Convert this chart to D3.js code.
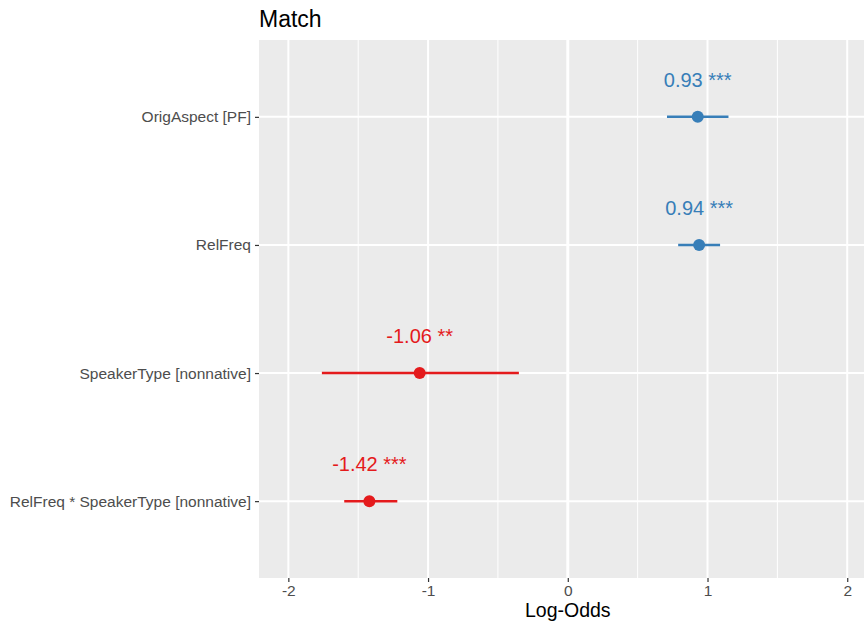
<!DOCTYPE html>
<html>
<head>
<meta charset="utf-8">
<script src="https://cdn.jsdelivr.net/npm/d3@7"></script>
<style>
  body { margin: 0; background: #fff; }
  text { font-family: "Liberation Sans", Arial, sans-serif; }
</style>
</head>
<body>
<div id="chart"></div>
<script>
// model terms, top to bottom
const terms = ['OrigAspect [PF]', 'RelFreq', 'SpeakerType [nonnative]', 'RelFreq * SpeakerType [nonnative]'];
const estimates = [0.93, 0.94, -1.06, -1.42];
const ciLow = [0.71, 0.79, -1.76, -1.60];
const ciHigh = [1.15, 1.09, -0.35, -1.22];
const stars = ['***', '***', '**', '***'];
const xTicks = [-2, -1, 0, 1, 2];
const xMinor = [-1.5, -0.5, 0.5, 1.5];

const width = 864, height = 624;
const panel = {left: 259, right: 864, top: 40, bottom: 578};
const blue = '#377EB8', red = '#E41A1C';

const svg = d3.select('#chart').append('svg')
  .attr('width', width)
  .attr('height', height);

const x = d3.scaleLinear()
  .domain([-2.21, 2.12])
  .range([panel.left, panel.right]);

const y = d3.scalePoint()
  .domain(terms)
  .range([panel.top, panel.bottom])
  .padding(0.6);

// panel background
svg.append('rect')
  .attr('x', panel.left)
  .attr('y', panel.top)
  .attr('width', panel.right - panel.left)
  .attr('height', panel.bottom - panel.top)
  .attr('fill', '#EBEBEB');

const grid = svg.append('g');
grid.selectAll('.minor')
  .data(xMinor)
  .enter().append('line')
  .attr('x1', d => x(d)).attr('x2', d => x(d))
  .attr('y1', panel.top).attr('y2', panel.bottom)
  .attr('stroke', '#fff').attr('stroke-width', 1);
grid.selectAll('.major')
  .data(xTicks)
  .enter().append('line')
  .attr('x1', d => x(d)).attr('x2', d => x(d))
  .attr('y1', panel.top).attr('y2', panel.bottom)
  .attr('stroke', '#fff').attr('stroke-width', d => d === 0 ? 3 : 2);
grid.selectAll('.hmajor')
  .data(terms)
  .enter().append('line')
  .attr('x1', panel.left).attr('x2', panel.right)
  .attr('y1', d => y(d)).attr('y2', d => y(d))
  .attr('stroke', '#fff').attr('stroke-width', 2);

// axes
const xAxis = svg.append('g')
  .attr('transform', `translate(0,${panel.bottom})`)
  .call(d3.axisBottom(x).tickValues(xTicks).tickSize(4).tickPadding(3).tickFormat(d3.format('d')));
const yAxis = svg.append('g')
  .attr('transform', `translate(${panel.left},0)`)
  .call(d3.axisLeft(y).tickSize(4).tickPadding(4));
[xAxis, yAxis].forEach(a => {
  a.select('.domain').remove();
  a.selectAll('.tick line').attr('stroke', '#333').attr('stroke-width', 1.2);
  a.selectAll('.tick text')
    .attr('fill', '#4D4D4D')
    .style('font-size', '15.5px')
    .style('font-family', '"Liberation Sans", Arial, sans-serif');
});
xAxis.selectAll('.tick text').text(d => d < 0 ? '-' + Math.abs(d) : d);

// estimates
const rows = terms.map((t, i) => ({
  term: t, est: estimates[i], lo: ciLow[i], hi: ciHigh[i], sig: stars[i],
  color: estimates[i] > 0 ? blue : red
}));

const marks = svg.append('g');
marks.selectAll('.ci')
  .data(rows)
  .enter().append('line')
  .attr('x1', d => x(d.lo)).attr('x2', d => x(d.hi))
  .attr('y1', d => y(d.term)).attr('y2', d => y(d.term))
  .attr('stroke', d => d.color)
  .attr('stroke-width', 2.5);
marks.selectAll('.pt')
  .data(rows)
  .enter().append('circle')
  .attr('cx', d => x(d.est))
  .attr('cy', d => y(d.term))
  .attr('r', 6)
  .attr('fill', d => d.color);
marks.selectAll('.lbl')
  .data(rows)
  .enter().append('text')
  .attr('x', d => x(d.est))
  .attr('y', d => y(d.term) - 30)
  .attr('text-anchor', 'middle')
  .attr('fill', d => d.color)
  .style('font-size', '20px')
  .text(d => d.est.toFixed(2) + ' ' + d.sig);

// titles
svg.append('text')
  .attr('x', panel.left)
  .attr('y', 27)
  .style('font-size', '23px')
  .attr('fill', '#000')
  .text('Match');
svg.append('text')
  .attr('x', x(0))
  .attr('y', 617)
  .attr('text-anchor', 'middle')
  .style('font-size', '19.5px')
  .attr('fill', '#000')
  .text('Log-Odds');
</script>
</body>
</html>
